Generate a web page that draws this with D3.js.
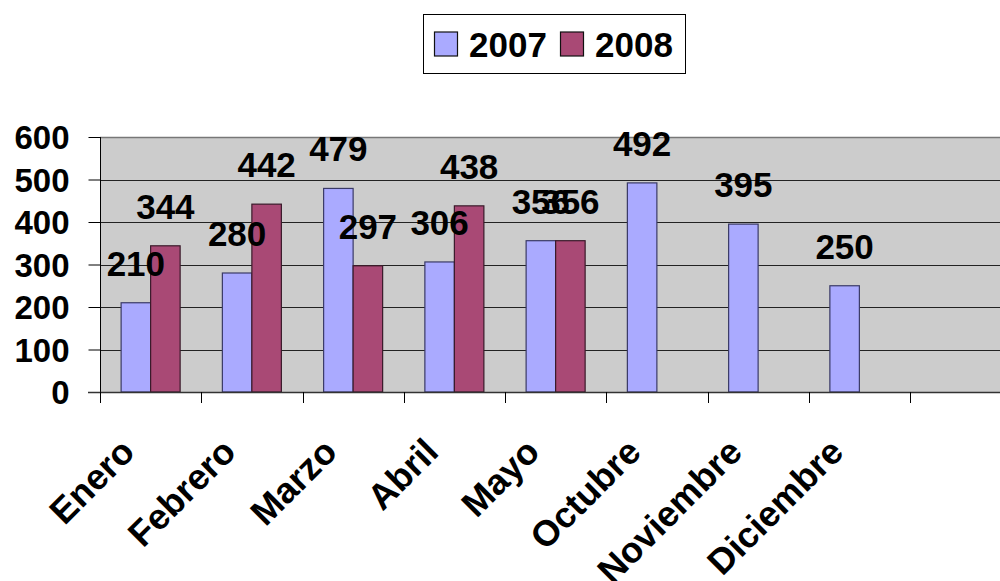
<!DOCTYPE html>
<html>
<head>
<meta charset="utf-8">
<script src="https://cdn.jsdelivr.net/npm/d3@7"></script>
<style>
  html, body { margin: 0; padding: 0; background: #fff; }
  svg { display: block; }
  text { font-family: "Liberation Sans", Arial, Helvetica, sans-serif; font-weight: bold; fill: #000; }
</style>
</head>
<body>
<svg id="chart" width="1000" height="581"></svg>
<script>
const categories = ["Enero", "Febrero", "Marzo", "Abril", "Mayo", "Octubre", "Noviembre", "Diciembre"];
const seriesNames = ["2007", "2008"];
const values2007 = [210, 280, 479, 306, 356, 492, 395, 250];
const values2008 = [344, 442, 297, 438, 356, null, null, null];
const yTicks = [0, 100, 200, 300, 400, 500, 600];
const colors = ["#AAAAFF", "#A94975"];
const strokes = ["#3a3a66", "#3a1a2a"];

const svg = d3.select("#chart");
const plot = { left: 100, right: 1011.25, top: 137, bottom: 392 };

// an extra empty slot after the last category, as in the original
const slots = categories.concat([" "]);
const x = d3.scaleBand().domain(slots).range([plot.left, plot.right]).paddingInner(0).paddingOuter(0);
const xs = d3.scaleBand().domain(seriesNames).range([0, x.bandwidth()]).paddingInner(0).paddingOuter(0.716);
const y = d3.scaleLinear().domain([0, 600]).range([plot.bottom, plot.top]);

// plot background
svg.append("rect")
  .attr("x", plot.left).attr("y", plot.top)
  .attr("width", plot.right - plot.left).attr("height", plot.bottom - plot.top)
  .attr("fill", "#CCCCCC");

// gridlines
svg.append("g").selectAll("line").data(yTicks.filter(d => d > 0)).join("line")
  .attr("x1", plot.left).attr("x2", plot.right)
  .attr("y1", d => Math.round(y(d)) + 0.5).attr("y2", d => Math.round(y(d)) + 0.5)
  .attr("stroke", d => d === 600 ? "#777" : "#222").attr("stroke-width", d => d === 600 ? 1.5 : 1);

// y axis
const yAxis = svg.append("g").attr("transform", `translate(${plot.left + 0.5},0)`)
  .call(d3.axisLeft(y).tickValues(yTicks).tickSize(12).tickPadding(19).tickFormat(d3.format("d")));
yAxis.select(".domain").attr("stroke", "#000").attr("d", `M0,${plot.top}V${plot.bottom}`);
yAxis.selectAll(".tick line").attr("stroke", "#000");
yAxis.selectAll(".tick text")
  .attr("font-size", 33).attr("font-family", '"Liberation Sans", Arial, sans-serif')
  .attr("font-weight", "bold").attr("fill", "#000").attr("dy", "0.36em");

// bars
const data = [];
categories.forEach((c, i) => {
  [values2007[i], values2008[i]].forEach((v, s) => {
    if (v !== null && v !== undefined) data.push({ cat: c, series: seriesNames[s], s, v });
  });
});

svg.append("g").selectAll("rect").data(data).join("rect")
  .attr("x", d => x(d.cat) + xs(d.series))
  .attr("y", d => y(d.v))
  .attr("width", xs.bandwidth())
  .attr("height", d => y(0) - y(d.v))
  .attr("fill", d => colors[d.s])
  .attr("stroke", d => strokes[d.s])
  .attr("stroke-width", 1.2);

// x axis line and category ticks
svg.append("line")
  .attr("x1", plot.left - 12).attr("x2", plot.right)
  .attr("y1", plot.bottom + 0.5).attr("y2", plot.bottom + 0.5)
  .attr("stroke", "#333").attr("stroke-width", 1.5);
const boundaries = slots.map(s => x(s)).concat([plot.right]);
svg.append("g").selectAll("line").data(boundaries).join("line")
  .attr("x1", d => Math.round(d) + 0.5).attr("x2", d => Math.round(d) + 0.5)
  .attr("y1", plot.bottom).attr("y2", plot.bottom + 11)
  .attr("stroke", "#000");

// category labels
svg.append("g").selectAll("text").data(categories).join("text")
  .attr("transform", d => `translate(${x(d) + x.bandwidth() / 2 - 14},454) rotate(-45)`)
  .attr("text-anchor", "end")
  .attr("font-size", 36)
  .text(d => d);

// data labels
svg.append("g").selectAll("text").data(data).join("text")
  .attr("x", d => x(d.cat) + xs(d.series) + xs.bandwidth() / 2)
  .attr("y", d => y(d.v) - 27)
  .attr("text-anchor", "middle")
  .attr("font-size", 35)
  .text(d => d.v);

// legend
const legend = svg.append("g");
legend.append("rect").attr("x", 423.5).attr("y", 14.5).attr("width", 262).attr("height", 59)
  .attr("fill", "#fff").attr("stroke", "#000").attr("stroke-width", 1);
const legendItems = [{ name: seriesNames[0], sx: 434.5, tx: 469 }, { name: seriesNames[1], sx: 560.5, tx: 595 }];
legendItems.forEach((it, i) => {
  legend.append("rect").attr("x", it.sx).attr("y", 32).attr("width", 23).attr("height", 24)
    .attr("fill", colors[i]).attr("stroke", "#111").attr("stroke-width", 1.2);
  legend.append("text").attr("x", it.tx).attr("y", 57).attr("font-size", 35).text(it.name);
});
</script>
</body>
</html>
